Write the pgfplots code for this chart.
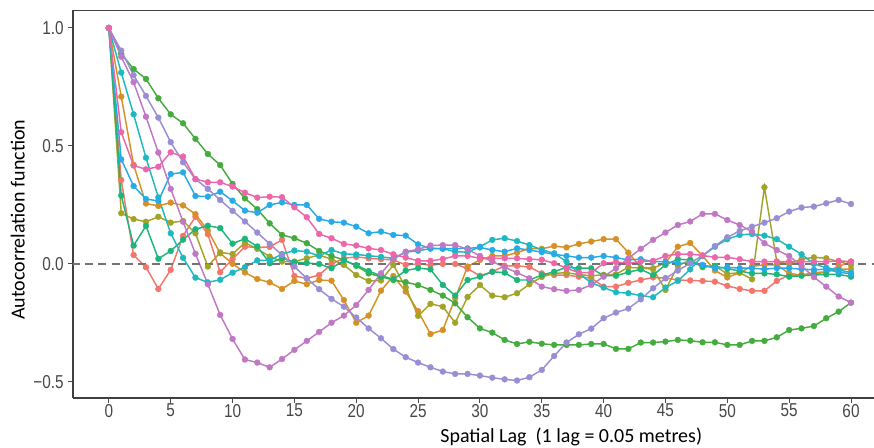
\documentclass[border=0pt]{standalone}
\usepackage{fontspec}
\setmainfont{Carlito}
\newfontfamily\tickfont[FakeStretch=0.82]{Liberation Sans}
\usepackage{pgfplots}
\usepackage{pgfplotstable}
\pgfplotsset{compat=1.18}

\definecolor{cR}{RGB}{242,118,108}
\definecolor{cO}{RGB}{214,145,38}
\definecolor{cL}{RGB}{163,163,40}
\definecolor{cG}{RGB}{68,172,62}
\definecolor{cT}{RGB}{28,182,122}
\definecolor{cC}{RGB}{30,185,192}
\definecolor{cB}{RGB}{40,170,230}
\definecolor{cP}{RGB}{152,142,212}
\definecolor{cM}{RGB}{192,120,196}
\definecolor{cK}{RGB}{236,102,170}

% autocorrelation per lag, one column per profile
\pgfplotstableread{
lag r d o g t c b p m k
0 1 1 1 1 1 1 1 1 1 1
1 0.356 0.709 0.215 0.89 0.29 0.811 0.443 0.904 0.878 0.558
2 0.038 0.42 0.19 0.826 0.078 0.634 0.33 0.80 0.77 0.417
3 -0.014 0.256 0.179 0.784 0.161 0.45 0.275 0.712 0.624 0.401
4 -0.106 0.246 0.2 0.702 0.022 0.282 0.267 0.62 0.472 0.412
5 -0.025 0.26 0.175 0.634 0.055 0.13 0.381 0.516 0.318 0.473
6 0.119 0.248 0.182 0.596 0.103 0.026 0.388 0.431 0.179 0.455
7 0.2 0.211 0.13 0.53 0.147 -0.058 0.288 0.359 0.043 0.36
8 0.126 0.142 -0.011 0.466 0.162 -0.078 0.285 0.318 -0.086 0.346
9 -0.035 0.045 0.049 0.419 0.152 -0.067 0.306 0.271 -0.216 0.346
10 0.021 0.001 0.042 0.339 0.086 -0.037 0.268 0.225 -0.318 0.328
11 0.073 -0.036 0.09 0.278 0.107 -0.014 0.226 0.18 -0.405 0.302
12 0.07 -0.064 0.064 0.232 0.074 0.015 0.217 0.133 -0.418 0.281
13 0.072 -0.078 0.031 0.172 0.003 0.015 0.25 0.085 -0.438 0.285
14 0.102 -0.106 0.01 0.123 0.025 0.042 0.261 0.038 -0.403 0.283
15 -0.051 -0.072 0.01 0.109 0.008 0.057 0.25 -0.011 -0.364 0.24
16 -0.061 -0.086 0.024 0.088 0.004 0.052 0.25 -0.061 -0.326 0.198
17 -0.047 -0.068 0.038 0.055 0.0 0.034 0.191 -0.107 -0.288 0.127
18 0.0 -0.071 0.02 0.034 -0.018 0.059 0.179 -0.148 -0.249 0.109
19 0.024 -0.153 -0.004 0.017 0.015 0.043 0.175 -0.181 -0.219 0.085
20 0.03 -0.249 -0.047 -0.008 -0.005 0.04 0.158 -0.227 -0.174 0.078
21 0.024 -0.219 -0.072 -0.04 -0.03 0.035 0.13 -0.273 -0.11 0.066
22 0.02 -0.113 -0.07 -0.054 -0.05 0.03 0.137 -0.315 -0.04 0.059
23 0.017 -0.051 -0.004 -0.068 -0.065 0.024 0.123 -0.361 0.02 0.041
24 -0.004 -0.117 -0.1 -0.077 -0.028 0.05 0.12 -0.395 0.052 0.027
25 0.0 -0.2 -0.22 -0.09 -0.018 0.056 0.083 -0.418 0.062 0.013
26 -0.005 -0.297 -0.169 -0.11 -0.023 0.065 0.066 -0.438 0.078 0.013
27 0.0 -0.28 -0.181 -0.134 -0.089 0.065 0.065 -0.456 0.08 0.021
28 0.0 -0.145 -0.249 -0.167 -0.134 0.052 0.065 -0.466 0.08 0.034
29 -0.02 -0.011 -0.14 -0.226 -0.068 0.05 0.066 -0.466 0.062 0.034
30 -0.05 0.017 -0.089 -0.273 -0.054 0.073 0.07 -0.473 0.034 0.024
31 -0.033 0.034 -0.134 -0.291 -0.033 0.102 0.059 -0.482 0.01 0.024
32 -0.008 0.034 -0.141 -0.322 -0.037 0.109 0.052 -0.489 -0.014 0.024
33 -0.008 0.048 -0.124 -0.339 -0.068 0.097 0.066 -0.494 -0.037 0.024
34 -0.013 0.066 -0.086 -0.33 -0.068 0.08 0.059 -0.48 -0.061 0.02
35 -0.04 0.064 -0.055 -0.338 -0.047 0.06 0.05 -0.449 -0.096 0.018
36 -0.047 0.076 -0.04 -0.343 -0.033 0.045 0.041 -0.39 -0.107 0.003
37 -0.047 0.07 -0.037 -0.343 -0.014 0.01 0.034 -0.333 -0.114 -0.018
38 -0.054 0.085 -0.045 -0.343 -0.018 -0.04 0.027 -0.298 -0.11 -0.037
39 -0.06 0.095 -0.05 -0.339 -0.018 -0.08 0.027 -0.274 -0.089 -0.037
40 -0.096 0.105 -0.046 -0.339 -0.05 -0.1 0.034 -0.23 -0.054 0.003
41 -0.096 0.105 -0.044 -0.36 -0.05 -0.12 0.027 -0.206 -0.018 0.008
42 -0.08 0.048 -0.014 -0.36 -0.035 -0.124 0.017 -0.189 0.024 0.003
43 -0.068 -0.014 -0.018 -0.333 -0.023 -0.134 0.02 -0.15 0.064 0.01
44 -0.057 -0.018 -0.022 -0.333 -0.047 -0.141 0.01 -0.103 0.102 0.013
45 -0.06 0.005 -0.11 -0.329 -0.004 -0.1 0.01 -0.061 0.133 0.034
46 -0.068 0.073 -0.008 -0.322 0.02 -0.072 0.003 -0.028 0.165 0.042
47 -0.07 0.089 0.017 -0.325 0.017 -0.023 0.003 0.003 0.18 0.042
48 -0.072 0.034 -0.014 -0.332 -0.01 0.034 -0.004 0.036 0.212 0.036
49 -0.075 -0.028 -0.008 -0.332 -0.01 0.073 -0.018 0.076 0.212 0.028
50 -0.093 -0.057 -0.042 -0.343 -0.02 0.105 -0.014 0.113 0.186 0.028
51 -0.106 -0.037 -0.037 -0.343 -0.03 0.123 -0.018 0.14 0.165 0.02
52 -0.114 -0.01 -0.065 -0.326 -0.04 0.127 -0.018 0.158 0.137 0.01
53 -0.114 -0.004 0.325 -0.326 -0.04 0.12 -0.022 0.175 0.088 0.01
54 -0.072 -0.004 0.01 -0.311 -0.044 0.105 -0.018 0.194 0.059 0.01
55 -0.047 -0.04 0.0 -0.28 -0.054 0.073 -0.018 0.222 0.034 0.01
56 -0.047 -0.047 0.02 -0.273 -0.05 0.041 -0.022 0.239 -0.008 0.01
57 -0.042 -0.037 0.028 -0.263 -0.047 0.0 -0.025 0.243 -0.056 0.01
58 -0.035 -0.033 0.024 -0.23 -0.044 -0.016 -0.022 0.257 -0.096 0.01
59 -0.01 -0.022 0.01 -0.202 -0.044 -0.025 -0.035 0.271 -0.138 0.013
60 0.01 -0.022 -0.004 -0.164 -0.054 -0.037 -0.042 0.254 -0.164 0.01
}\acf

\newcommand\acfline[2]{%
  \addplot[color=#2, line width=1.1pt, mark=*, mark size=2.2pt,
    mark options={solid, fill=#2, draw=#2, line width=0.3pt}]
    table[x=lag, y=#1] {\acf};}

\begin{document}
\begin{tikzpicture}
\useasboundingbox (-54.75pt,-37.5pt) rectangle (600.75pt,298.5pt);
\begin{axis}[
    at={(0,0)}, anchor=south west,
    scale only axis,
    width=600.75pt, height=290.625pt,
    xmin=-2.9, xmax=61.86,
    ymin=-0.568, ymax=1.074,
    axis x line*=box, axis y line*=left,
    axis line style={line width=0.8pt, color=black!75},
    xtick={0,5,...,60},
    ytick={-0.5,0,0.5,1},
    yticklabels={−0.5,0.0,0.5,1.0},
    xtick pos=bottom, ytick pos=left,
    tick align=outside,
    major tick length=3.5pt,
    tick style={line width=0.7pt, color=black!70},
    /pgf/number format/assume math mode=true,
    ticklabel style={font=\tickfont\fontsize{14}{16}\selectfont, text=black!72},
    xticklabel style={yshift=2.5pt},
    xlabel={Spatial Lag\ \ (1 lag = 0.05 metres)},
    ylabel={Autocorrelation function},
    label style={font=\fontsize{15}{18}\selectfont, text=black},
    xlabel style={at={(axis description cs:0.622,-0.10)}, anchor=center},
    ylabel style={at={(axis description cs:-0.069,0.46)}, anchor=center, rotate=0},
]
\acfline{r}{cR}
\acfline{d}{cO}
\acfline{o}{cL}
\acfline{g}{cG}
\acfline{t}{cT}
\acfline{c}{cC}
\acfline{b}{cB}
\acfline{p}{cP}
\acfline{m}{cM}
\acfline{k}{cK}
\addplot[forget plot, color=black!55, line width=1.1pt, dash pattern=on 6pt off 4pt]
    coordinates {(-3,0) (63,0)};
\end{axis}
\end{tikzpicture}
\end{document}
